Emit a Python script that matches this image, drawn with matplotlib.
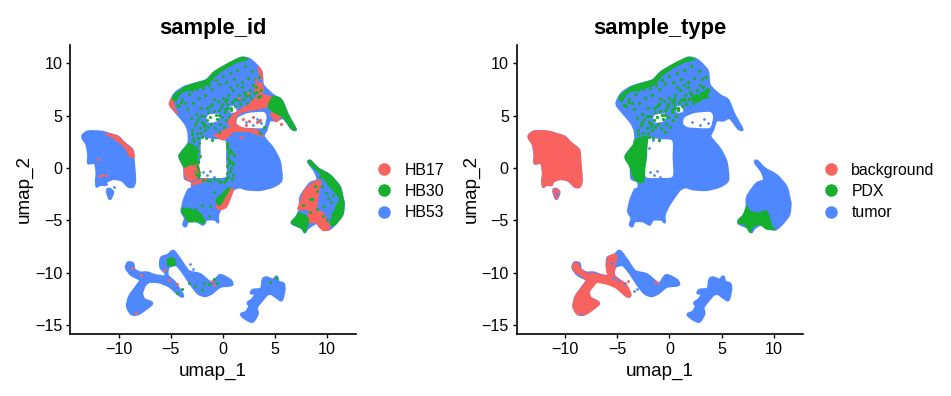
import matplotlib
matplotlib.use("Agg")
import matplotlib.pyplot as plt
from matplotlib.lines import Line2D
from matplotlib.patches import PathPatch
from matplotlib.path import Path

plt.rcParams['font.family'] = ['Liberation Sans', 'DejaVu Sans']

RED = "#F8625F"
GREEN = "#14B02E"
BLUE = "#4F87FF"

# cluster outlines in umap coordinates
cluster_a = [(-13.47,3.15),(-12.93,3.5),(-11.65,3.47),(-10.85,3.25),(-10.05,2.99),(-9.41,2.36),(-8.67,1.72),(-8.54,0.45),(-8.42,-1.15),(-8.61,-1.78),(-9.09,-1.78),(-9.7,-1.2),(-10.5,-1.05),(-11.15,-1.3),(-11.3,-1.62),(-11.8,-1.62),(-12.13,-1.78),(-12.19,-1.15),(-12.13,-0.51),(-12.29,0.45),(-12.93,0.45),(-12.93,1.24),(-13.09,2.2),(-13.47,2.83)]
cluster_a_tail = [(-11.1,-2.15),(-10.85,-2.9),(-10.6,-2.32),(-10.85,-2.04)]
cluster_b = [(-5.09,6.11),(-4.61,7.13),(-3.65,7.77),(-2.37,8.15),(-1.57,8.41),(-0.77,9.2),(0.67,10.0),(1.79,10.54),(2.59,10.38),(3.23,9.84),(3.71,9.2),(3.87,7.93),(4.83,6.97),(5.63,6.5),(6.27,5.06),(7.01,3.69),(6.59,3.76),(5.79,4.75),(5.15,4.52),(4.51,4.52),(4.19,3.63),(3.94,2.99),(4.83,1.88),(5.47,0.61),(5.63,-1.15),(4.83,-1.78),(3.55,-2.1),(2.27,-2.04),(1.63,-1.85),(0.99,-2.1),(0.0,-3.5),(-0.45,-4.46),(-0.45,-5.19),(-0.77,-4.94),(-1.57,-4.94),(-1.89,-5.41),(-2.53,-5.1),(-3.33,-5.1),(-3.55,-5.57),(-3.81,-5.41),(-3.65,-4.78),(-3.97,-4.14),(-3.74,-3.03),(-3.33,-2.08),(-3.01,-1.94),(-3.01,-1.31),(-3.65,-0.99),(-3.74,0.13),(-4.19,1.15),(-3.33,2.36),(-3.33,3.47),(-3.65,4.27),(-4.45,5.22)]
cluster_c = [(8.19,0.54),(8.42,0.7),(9.15,-0.03),(10.27,-0.67),(11.23,-1.78),(11.55,-3.06),(11.62,-3.35),(11.49,-4.46),(10.75,-5.41),(10.11,-5.89),(9.31,-5.63),(8.99,-5.25),(8.19,-5.73),(7.87,-6.14),(7.55,-5.73),(6.59,-5.25),(7.07,-4.62),(7.39,-3.83),(7.46,-2.71),(8.35,-1.46),(9.06,-1.15),(8.83,-0.35)]
cluster_d = [(-9.25,-9.54),(-9.09,-9.06),(-8.67,-9.13),(-8.54,-9.7),(-7.97,-10.02),(-7.26,-10.02),(-6.53,-10.27),(-5.57,-10.4),(-5.47,-10.02),(-5.95,-9.44),(-5.89,-8.59),(-5.25,-8.33),(-4.77,-7.95),(-4.13,-8.75),(-3.33,-9.86),(-2.21,-10.17),(-1.41,-10.81),(-0.93,-11.06),(-0.29,-10.27),(0.67,-10.71),(0.83,-11.13),(-0.29,-11.29),(-1.09,-11.92),(-1.73,-12.17),(-2.37,-11.92),(-3.01,-11.13),(-3.65,-10.17),(-4.45,-9.22),(-5.25,-9.44),(-5.34,-10.27),(-4.61,-10.97),(-3.87,-12.17),(-4.19,-12.08),(-5.09,-11.29),(-6.05,-10.87),(-7.01,-10.81),(-7.49,-11.13),(-7.81,-11.92),(-7.58,-12.56),(-6.85,-12.94),(-8.13,-13.89),(-8.77,-13.89),(-9.15,-13.19),(-8.93,-12.24),(-8.13,-11.13),(-7.9,-10.65),(-8.77,-10.17)]
cluster_e = [(3.87,-10.65),(4.19,-10.49),(4.83,-10.71),(5.15,-10.4),(5.31,-10.9),(5.79,-11.06),(5.86,-11.6),(5.63,-12.56),(5.15,-12.3),(4.67,-11.98),(4.19,-12.08),(3.23,-13.25),(3.3,-13.89),(2.85,-14.62),(2.27,-14.4),(1.79,-13.98),(2.27,-13.76),(2.59,-13.19),(2.43,-12.87),(2.85,-12.56),(3.23,-11.92),(2.75,-11.92),(2.91,-11.67),(3.71,-11.54)]
big_clusters = [cluster_a, cluster_b, cluster_c]
thin_clusters = [cluster_a_tail, cluster_d, cluster_e]

# empty areas inside cluster b
hole_rect = [(-2.05,2.83),(-0.9,2.75),(0.26,2.6),(0.3,1.0),(0.3,-0.8),(-1.0,-0.95),(-2.2,-0.9),(-2.37,-0.19),(-2.14,0.96)]
hole_right = [(1.31,4.27),(1.79,3.89),(3.55,3.79),(3.97,3.95),(4.19,4.9),(3.87,5.35),(2.43,5.25),(1.47,4.84)]
hole_mid = [(-1.41,5.06),(-0.35,5.16),(-0.45,4.52),(-1.09,4.33),(-1.57,4.43)]
hole_small = [(0.61,5.8),(1.15,5.92),(1.31,5.38),(0.74,5.29)]
holes = [hole_rect, hole_right, hole_mid, hole_small]

# sample_id patches
id_red = [
    [(-11.33,3.25),(-10.85,3.25),(-10.05,2.99),(-9.41,2.36),(-8.67,1.72),(-8.54,1.02),(-8.93,1.15),(-9.41,1.97),(-10.05,2.52),(-10.69,2.99)],
    [(-5.15,6.11),(-4.86,6.66),(-4.7,5.92),(-4.38,5.22),(-4.77,5.61)],
    [(3.39,9.68),(3.71,9.2),(3.81,8.41),(3.49,9.04)],
    [(0.51,4.43),(1.15,5.22),(2.43,6.02),(3.55,6.97),(4.83,6.66),(4.19,5.86),(3.23,5.61),(1.95,5.38),(1.31,4.97),(1.15,4.27),(0.67,4.01)],
    [(3.07,7.93),(3.71,8.09),(3.87,7.29),(3.23,7.07)],
    [(4.58,5.22),(5.47,5.16),(5.63,4.97),(5.15,4.43),(4.83,4.75)],
    [(0.19,3.63),(0.99,3.95),(1.31,4.11),(1.95,3.79),(3.23,3.63),(3.87,2.99),(2.59,3.47),(0.99,3.47),(0.51,2.99),(0.03,2.68),(-0.61,2.99),(-0.77,3.15)],
    [(-3.65,0.06),(-2.53,0.51),(-2.27,-0.19),(-2.46,-0.99),(-3.17,-1.21),(-3.55,-0.99)],
    [(-3.01,-1.62),(-2.69,-1.31),(-1.57,-0.99),(-1.89,-1.31)],
    [(7.39,-3.35),(7.87,-2.08),(8.99,-1.21),(9.38,-1.31),(9.15,-2.74),(8.99,-3.98),(9.63,-4.3),(10.27,-5.73),(9.63,-5.95),(8.99,-5.25),(8.19,-5.1),(8.19,-3.98),(7.23,-3.98)],
    [(0.35,-2.26),(0.99,-2.04),(0.35,-3.69),(-0.35,-3.98),(-0.61,-3.5),(-0.13,-2.9)],
]
green_top = [(-4.77,6.82),(-3.65,7.71),(-2.37,8.15),(-1.57,8.41),(-0.77,9.2),(0.67,10.06),(1.79,10.54),(2.43,10.38),(1.31,10.06),(0.03,9.36),(-0.77,8.73),(-1.57,7.93),(-2.85,7.52),(-3.97,7.2),(-4.61,6.34)]
id_green = [
    green_top,
    [(4.83,6.82),(5.63,6.5),(6.27,5.06),(7.01,3.69),(6.59,3.76),(5.79,4.84),(4.83,5.38),(4.35,5.86)],
    [(-3.17,2.36),(-2.53,1.72),(-2.53,0.45),(-3.33,0.29),(-3.74,0.13),(-4.19,1.15),(-3.65,1.88)],
    [(8.19,0.54),(8.42,0.7),(9.15,-0.03),(10.27,-0.67),(11.23,-1.78),(11.55,-3.06),(11.62,-3.35),(11.49,-4.46),(10.75,-5.41),(10.3,-5.3),(10.75,-3.98),(11.17,-2.87),(10.27,-1.78),(9.31,-0.51)],
    [(6.59,-5.25),(7.07,-4.62),(7.3,-4.3),(8.0,-4.6),(8.2,-5.1),(7.87,-6.14),(7.55,-5.73)],
    [(-3.97,-3.98),(-3.49,-3.83),(-2.21,-4.3),(-1.73,-5.25),(-2.53,-5.1),(-3.33,-5.1),(-3.74,-4.46)],
    [(-5.31,-8.75),(-4.77,-8.59),(-4.51,-9.22),(-5.25,-9.32)],
    [(-0.61,-3.03),(0.35,-2.08),(0.67,-1.92),(-0.29,-3.51)],
]

# sample_type patches
type_red = [
    cluster_a,
    cluster_a_tail,
    [(-9.22,-9.54),(-8.96,-9.06),(-8.58,-9.7),(-7.87,-10.17),(-7.14,-10.17),(-5.86,-10.4),(-5.95,-9.54),(-5.79,-8.59),(-5.15,-8.37),(-5.38,-9.7),(-5.31,-10.4),(-4.26,-11.13),(-3.78,-12.08),(-4.1,-12.17),(-5.06,-11.37),(-6.02,-10.97),(-6.98,-10.81),(-7.3,-11.13),(-7.78,-11.76),(-7.62,-12.4),(-6.82,-12.94),(-8.1,-13.89),(-8.74,-13.89),(-9.15,-13.25),(-8.9,-12.24),(-8.1,-11.13),(-7.87,-10.59),(-8.74,-10.02)],
]
type_green = [
    green_top,
    [(-3.3,2.68),(-2.18,2.99),(-2.18,2.04),(-2.34,0.45),(-2.5,-1.31),(-3.3,-1.15),(-3.78,0.13),(-4.26,1.08),(-3.46,2.2)],
    [(6.62,-4.94),(7.1,-4.46),(7.42,-3.67),(7.74,-4.14),(8.54,-4.3),(9.34,-4.14),(9.82,-5.57),(10.14,-5.83),(9.34,-5.83),(8.7,-5.41),(8.06,-5.57),(7.74,-6.14),(7.26,-5.41),(6.62,-5.25)],
    [(2.1,6.6),(3.0,7.0),(3.75,7.6),(3.6,7.0),(2.7,6.3)],
]

# single cells seen outside the solid areas
green_band_x = [-3.0,-2.7,-2.9,-2.5,-2.2,-2.0,-1.7,-1.4,-1.9,-1.2,-0.9,-0.6,-0.3,-0.8,-0.4,0.1,0.3,0.2,0.6,-0.2,0.4,0.9,1.2,1.6,1.9,2.3,2.7,3.0,3.4,3.7,3.2,2.6,2.1,1.5,1.0,0.5,0.0,-0.5,-1.0,-1.5,-2.1,-2.6,-3.1,-3.4,-2.9,-2.3,-1.7,-1.0,-0.4,0.3,1.1,1.8,2.4,3.1,-3.9,-3.3,-4.2,-2.0,-1.6,-1.0,-2.5,-2.7,-2.4,1.8,1.3,0.8,0.2,-0.4,-1.2,-1.8,-2.4,-3.0,2.9,2.2,1.4,
                -2.8,-2.4,-2.1,-1.8,-1.5,-1.1,-0.7,-0.4,-0.1,0.2,0.5,0.8,1.1,1.5,2.0,2.5,3.3,3.6,-2.6,-2.2,-1.4,-0.9,-0.1,0.4,0.7,-3.6,-4.0,-4.4,-3.0,-2.5,-1.9,-1.3,-0.7,0.0,0.7,1.4,2.1,2.8,3.5]
green_band_y = [3.6,4.1,2.9,3.3,3.8,4.4,3.6,3.9,5.0,4.9,5.4,4.7,4.2,3.8,3.4,3.9,4.6,5.3,5.0,5.8,6.1,6.3,5.9,6.1,6.6,6.2,6.7,7.2,6.8,7.4,7.7,7.4,7.1,7.0,7.4,7.0,6.7,6.4,6.1,5.7,5.7,5.2,4.8,5.6,6.2,6.7,7.0,7.5,8.0,8.2,8.5,8.2,8.6,8.5,6.6,7.1,5.9,3.0,2.9,2.7,2.0,1.2,0.6,7.7,6.6,5.7,6.4,5.1,5.9,4.2,4.7,3.2,7.9,6.9,7.9,
                2.6,2.9,3.3,4.0,4.6,4.2,5.1,5.5,4.9,5.6,5.7,5.5,6.5,6.5,7.3,7.0,7.3,6.9,4.4,5.0,5.3,6.6,6.1,6.6,7.7,6.2,6.3,6.0,7.4,7.5,7.6,7.9,8.4,8.8,9.1,9.4,9.7,9.3,8.7]
id_green_x = [0.4,0.7,0.5,0.9,0.4,0.7,1.0,0.5,0.9,0.3,0.6,1.1,-1.9,-1.2,-0.5,0.1,-0.9,-2.4,-2.6,-2.3,-2.8,-0.9,-0.5,-1.2,8.6,9.0,9.5,9.9,10.3,10.4,9.7,9.0,8.4,9.6,10.0,10.5,7.7,8.4,-3.4,-2.7,-2.0,-1.3,3.5,3.9,3.6,-3.3,-3.9,-4.4,-2.7,-2.0,-1.8,-0.9,-0.6,-1.3,4.5,5.1,
              0.35,0.45,0.55,0.8,1.0,0.35,0.6,0.85,0.4,-1.5,-0.3,0.3,-2.25,-2.35,-2.2,-2.45,-2.3,-2.4,9.3,8.8,10.1,10.6]
id_green_y = [2.2,1.7,1.0,0.6,0.2,-0.3,-0.7,-0.9,-1.0,-1.0,1.3,1.2,-1.1,-1.2,-1.1,-1.3,-1.0,-0.1,-0.6,-0.7,-0.3,-2.3,-3.0,-3.6,-3.0,-2.2,-1.7,-2.4,-1.6,-3.2,-3.6,-3.9,-4.2,-4.6,-5.0,-4.3,-3.5,-3.0,-4.2,-3.9,-3.5,-4.6,4.5,3.9,3.3,-11.0,-11.5,-11.9,-11.3,-11.6,-11.0,-10.6,-11.0,-11.1,-10.9,-10.5,
              1.9,1.5,0.8,0.0,0.4,-0.5,0.5,1.5,2.4,-1.15,-1.3,-1.15,2.4,1.6,1.1,0.2,-0.4,-0.85,-0.9,-1.7,-2.9,-2.6]
id_red_x = [1.5,2.4,3.0,2.0,1.1,0.7,2.5,2.9,3.3,1.9,2.2,3.6,-2.9,-3.1,-2.4,-11.6,-11.9,-11.2,-12.0,-5.7,-5.2,-4.4,-7.9,-8.7,-8.3,-1.0,-0.9,3.2,1.7,5.6]
id_red_y = [6.7,7.2,6.3,5.8,3.6,3.3,4.5,4.9,4.4,4.7,4.1,4.6,-0.3,0.2,-1.3,-0.7,-0.8,-0.7,0.9,-9.7,-10.7,-11.1,-10.2,-9.5,-13.8,-10.8,-11.2,8.4,3.0,4.2]
id_blue_x = [-1.9,-1.5,-0.9,-1.2,3.7,3.9,3.6,3.3,-10.5,-11.2,-10.9,-3.6,-2.9,-3.2,0.3,-5.9,-6.5,2.2,2.9,-1.0]
id_blue_y = [-0.4,-0.7,-0.9,-0.3,4.3,3.5,3.1,4.7,-1.8,-1.5,-2.0,-9.4,-9.6,-9.2,2.7,-10.6,-10.5,4.4,4.1,3.0]
type_red_x = [-4.8,-4.3,-4.0,-1.4,-1.1,-10.9]
type_red_y = [-10.9,-11.0,-10.8,-10.9,-11.0,-2.5]
type_blue_x = [-10.75,-5.6,-8.5,-4.9,-4.4,-5.4,-3.4,-3.1,-2.8,-1.9,-1.5,-0.9,-1.2,3.7,3.9,3.6,3.3,-2.0,-1.6,2.2,2.9,-1.0,0.6,0.9]
type_blue_y = [-2.5,-9.1,-13.9,-10.7,-11.1,-10.5,-11.7,-11.5,-11.4,-0.4,-0.7,-0.9,-0.3,4.3,3.5,3.1,4.7,1.9,2.7,4.4,4.1,3.0,-0.6,-0.3]

panels = ["sample_id", "sample_type"]
legend_labels = [["HB17", "HB30", "HB53"], ["background", "PDX", "tumor"]]
x_ticks = [-10, -5, 0, 5, 10]
y_ticks = [-15, -10, -5, 0, 5, 10]

W, H = 951, 396


def add_axes(left, right, top, bottom):
    return fig.add_axes([left / W, 1 - bottom / H, (right - left) / W, (bottom - top) / H])


def blob(p):
    # closed curve through the outline points
    n = len(p)
    verts = [p[0]]
    codes = [Path.MOVETO]
    for i in range(n):
        p0, p1, p2, p3 = p[i - 1], p[i], p[(i + 1) % n], p[(i + 2) % n]
        c1 = (p1[0] + (p2[0] - p0[0]) / 8, p1[1] + (p2[1] - p0[1]) / 8)
        c2 = (p2[0] - (p3[0] - p1[0]) / 8, p2[1] - (p3[1] - p1[1]) / 8)
        verts += [c1, c2, p2]
        codes += [Path.CURVE4] * 3
    return Path(verts, codes)


def fill_all(ax, polys, color, z, lw=1.0):
    for p in polys:
        ax.add_patch(PathPatch(blob(p), fc=color, ec=color, lw=lw, joinstyle='round', zorder=z))


def base(ax, title, labels):
    fill_all(ax, big_clusters, BLUE, 1, lw=1.5)
    fill_all(ax, thin_clusters, BLUE, 1, lw=2.4)
    fill_all(ax, holes, "white", 2, lw=0)
    ax.set_xlim(-14.65, 12.78)
    ax.set_ylim(-15.81, 11.74)
    ax.set_xticks(x_ticks)
    ax.set_yticks(y_ticks)
    ax.tick_params(labelsize=11.6, length=3.2, width=1.0, colors='black', pad=2.5)
    ax.spines[['top', 'right']].set_visible(False)
    ax.spines[['left', 'bottom']].set_linewidth(1.2)
    ax.set_xlabel("umap_1", fontsize=13.6, labelpad=4.5)
    ax.set_ylabel("umap_2", fontsize=13.6, labelpad=1.5)
    ax.set_title(title, fontsize=15.8, fontweight='bold', pad=8)
    handles = [Line2D([], [], ls='', marker='o', ms=8, color=c, label=l)
               for c, l in zip([RED, GREEN, BLUE], labels)]
    ax.legend(handles=handles, loc='center left', bbox_to_anchor=(1.043, 0.493), frameon=False,
              fontsize=11.4, labelspacing=0.4, handletextpad=0.3, borderpad=0, borderaxespad=0)


fig = plt.figure(figsize=(W / 100, H / 100), dpi=100)

ax1 = add_axes(70.3, 356, 45, 333.7)
base(ax1, panels[0], legend_labels[0])
fill_all(ax1, id_red, RED, 3)
fill_all(ax1, id_green, GREEN, 4)
ax1.scatter(green_band_x, green_band_y, s=5, color=GREEN, lw=0, zorder=5)
ax1.scatter(id_green_x, id_green_y, s=5, color=GREEN, lw=0, zorder=5)
ax1.scatter(id_red_x, id_red_y, s=5, color=RED, lw=0, zorder=5)
ax1.scatter(id_blue_x, id_blue_y, s=4, color=BLUE, lw=0, zorder=5)

ax2 = add_axes(516.7, 802.7, 45, 333.7)
base(ax2, panels[1], legend_labels[1])
fill_all(ax2, type_red[:2], RED, 3, lw=1.5)
fill_all(ax2, type_red[2:], RED, 3, lw=2.4)
fill_all(ax2, type_green, GREEN, 4)
ax2.scatter(green_band_x, green_band_y, s=6, color=GREEN, lw=0, zorder=5)
ax2.scatter(type_red_x, type_red_y, s=4, color=RED, lw=0, zorder=5)
ax2.scatter(type_blue_x, type_blue_y, s=4, color=BLUE, lw=0, zorder=5)

fig.savefig("out.png", dpi=100)
